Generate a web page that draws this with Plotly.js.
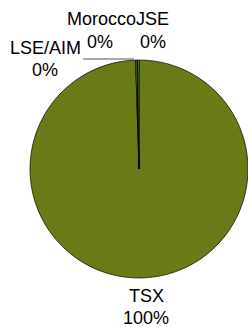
<!DOCTYPE html>
<html>
<head>
<meta charset="utf-8">
<script src="https://cdn.plot.ly/plotly-3.0.1.min.js"></script>
<style>html,body{margin:0;padding:0;background:#fff;}#chart{width:248px;height:327px;}</style>
</head>
<body>
<div id="chart"></div>
<script>
var labels = ["TSX", "LSE/AIM", "Morocco", "JSE"];
var values = [99.5, 0.22, 0.06, 0.22];
var colors = ["#6a7a16", "#8e9c26", "#1f6b2f", "#3dae4a"];

var W = 248, H = 327;
var total = values.reduce(function(a, b){ return a + b; }, 0);
function pct(i){ return Math.round(values[i] / total * 100 + 1e-9) + "%"; }

// label anchor positions in pixels (name line, percent line)
var labelPos = {
  "TSX":     [[146, 296], [146, 318]],
  "LSE/AIM": [[45, 48],   [45, 70]],
  "Morocco": [[101.5, 19],  [100, 42]],
  "JSE":     [[152, 19],  [153, 42]]
};

var annotations = [];
labels.forEach(function(l, i){
  var p = labelPos[l];
  [l, pct(i)].forEach(function(t, k){
    annotations.push({
      text: t, xref: "paper", yref: "paper",
      x: p[k][0] / W, y: 1 - p[k][1] / H,
      xanchor: "center", yanchor: "middle", showarrow: false,
      font: {family: "Liberation Sans, Arial, sans-serif", size: 18, color: "#000"}
    });
  });
});

var cx = 139, cy = 169, r = 109;
var trace = {
  type: "pie",
  labels: labels,
  values: values,
  sort: false,
  direction: "clockwise",
  rotation: 0,
  textinfo: "none",
  hoverinfo: "label+percent",
  marker: {colors: colors, line: {color: "#000", width: 0.7}},
  domain: {x: [(cx - r) / W, (cx + r) / W], y: [(H - cy - r) / H, (H - cy + r) / H]},
  showlegend: false
};

var layout = {
  width: W, height: H,
  margin: {l: 0, r: 0, t: 0, b: 0},
  paper_bgcolor: "#fff",
  showlegend: false,
  annotations: annotations,
  shapes: [{type: "line", xref: "paper", yref: "paper",
    x0: 83 / W, y0: 1 - 59 / H, x1: 134 / W, y1: 1 - 59 / H,
    line: {color: "#555", width: 1}}]
};

Plotly.newPlot("chart", [trace], layout, {staticPlot: true, displayModeBar: false});
</script>
</body>
</html>
